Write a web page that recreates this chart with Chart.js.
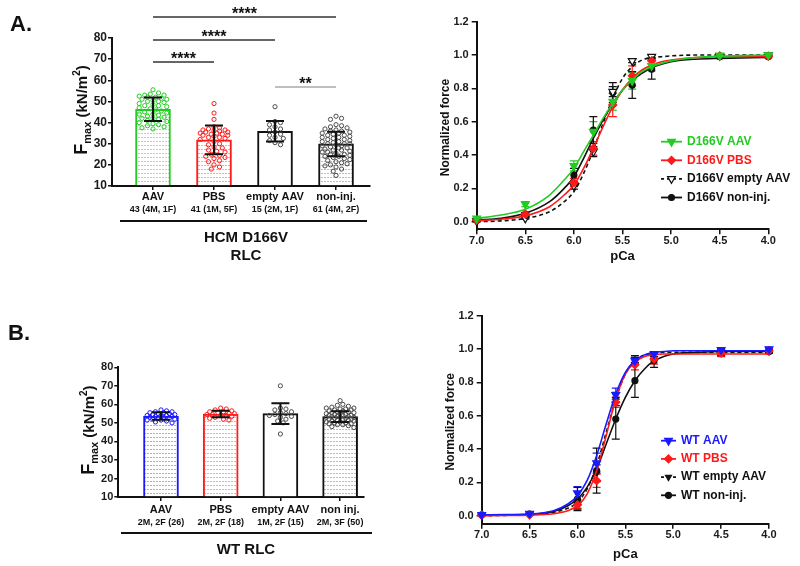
<!DOCTYPE html>
<html>
<head>
<meta charset="utf-8">
<title>Fmax and force-pCa, HCM D166V and WT RLC</title>
<script src="https://cdn.jsdelivr.net/npm/chart.js@4.4.1/dist/chart.umd.min.js"></script>
<style>
  html, body { margin: 0; padding: 0; background: #fff; }
  #page { position: relative; width: 800px; height: 566px; overflow: hidden; }
  canvas { position: absolute; }
</style>
</head>
<body>
<div id="page">
  <canvas id="fmaxA" width="400" height="280" style="left:0;top:0"></canvas>
  <canvas id="pcaA" width="400" height="280" style="left:400px;top:0"></canvas>
  <canvas id="fmaxB" width="400" height="286" style="left:0;top:280px"></canvas>
  <canvas id="pcaB" width="400" height="286" style="left:400px;top:280px"></canvas>
</div>
<script>
// ---------- Fmax bars, panel A (HCM D166V RLC) ----------
const groupsA = ['AAV', 'PBS', 'empty AAV', 'non-inj.'];
const countsA = ['43 (4M, 1F)', '41 (1M, 5F)', '15 (2M, 1F)', '61 (4M, 2F)'];
const meanA = [46.3, 31.8, 35.9, 29.9];
const sdA = [5.5, 6.8, 4.9, 5.8];
const aavA = [55.5, 54, 53.5, 53, 53, 52.5, 52, 52, 51.5, 51, 51, 50.5, 50, 50, 49.5, 49, 48.5, 48, 48, 47.5, 47, 46.5,
  46, 45.5, 45, 44.5, 44, 44, 43.5, 43, 42.5, 42, 42, 41.5, 41, 40.5, 40, 39.5, 39, 38.5, 38, 37.5, 37];
const pbsA = [49, 44.5, 41.5, 38, 37.5, 37, 36.5, 36.5, 36, 36, 35.5, 35.5, 35, 35, 34.5, 34.5, 34, 34, 33.5, 33, 33,
  32.5, 32, 31, 30, 29.5, 28.5, 28, 27, 26.5, 26, 25, 24.5, 24, 23.5, 23, 22, 21.5, 20, 19, 18];
const emptyA = [47.5, 40.5, 40, 39, 38, 37, 36.5, 35.5, 34.5, 34, 33, 32.5, 31.5, 30.5, 29.5];
const noninjA = [43, 42, 41.5, 39, 38.5, 38, 37.5, 37, 36.5, 36, 36, 35.5, 35, 35, 34.5, 34, 34, 33.5, 33, 33, 32.5, 32,
  32, 31.5, 31, 31, 30.5, 30, 30, 30, 29.5, 29, 29, 28.5, 28, 28, 27.5, 27, 27, 26.5, 26, 26, 25.5, 25, 25, 24.5, 24, 24,
  23.5, 23, 22.5, 22, 21.5, 21, 20.5, 20, 19.5, 19, 18, 17, 15];
// significance brackets: [group from, group to]
const sigPairsA = [[1, 2], [1, 3], [1, 4], [3, 4]];
const sigLabelsA = ['****', '****', '****', '**'];

// ---------- Fmax bars, panel B (WT RLC) ----------
const groupsB = ['AAV', 'PBS', 'empty AAV', 'non inj.'];
const countsB = ['2M, 2F (26)', '2M, 2F (18)', '1M, 2F (15)', '2M, 3F (50)'];
const meanB = [53.7, 54.8, 55.0, 53.4];
const sdB = [2.0, 1.8, 5.6, 2.9];
const aavB = [57, 56.5, 56, 56, 55.5, 55.5, 55, 55, 54.5, 54.5, 54, 54, 54, 53.5, 53.5, 53, 53, 52.5, 52.5, 52, 52, 51.5,
  51.5, 51, 50.5, 50];
const pbsB = [58, 57.5, 57, 56.5, 56, 56, 55.5, 55, 55, 54.5, 54.5, 54, 54, 53.5, 53, 52.5, 52, 51.5];
const emptyB = [70, 58, 57.5, 57, 56, 55.5, 55, 54.5, 54, 53.5, 53, 52, 51, 50, 44];
const noninjB = [62, 60, 59.5, 59, 58.5, 58, 58, 57.5, 57.5, 57, 57, 56.5, 56.5, 56, 56, 55.5, 55.5, 55, 55, 54.5, 54.5,
  54, 54, 54, 53.5, 53.5, 53.5, 53, 53, 53, 52.5, 52.5, 52, 52, 52, 51.5, 51.5, 51, 51, 50.5, 50.5, 50, 50, 49.5, 49.5,
  49, 49, 48.5, 48, 47.5];

// ---------- force-pCa ----------
const pCa = [7.0, 6.5, 6.0, 5.8, 5.6, 5.4, 5.2, 4.5, 4.0];
const fitPCa = [7.0, 6.75, 6.5, 6.25, 6.1, 6.0, 5.9, 5.8, 5.7, 5.6, 5.5, 5.4, 5.3, 5.2, 5.1, 5.0, 4.75, 4.5, 4.0];
const pCaTicks = [7.0, 6.5, 6.0, 5.5, 5.0, 4.5, 4.0];
const forceTicks = [0, 0.2, 0.4, 0.6, 0.8, 1.0, 1.2];

const d166vAAV = [0.02, 0.105, 0.335, 0.54, 0.72, 0.845, 0.935, 0.998, 1.0];
const d166vAAVerr = [0.005, 0.015, 0.03, 0.06, 0.05, 0.05, 0.03, 0.005, 0.004];
const d166vAAVfit = [0.02, 0.04, 0.075, 0.16, 0.25, 0.32, 0.42, 0.52, 0.62, 0.71, 0.79, 0.85, 0.9, 0.93, 0.95, 0.965, 0.985, 0.993, 1.0];
const d166vPBS = [0.01, 0.045, 0.235, 0.44, 0.70, 0.875, 0.965, 0.995, 0.993];
const d166vPBSerr = [0.004, 0.01, 0.025, 0.04, 0.07, 0.06, 0.02, 0.005, 0.005];
const d166vPBSfit = [0.005, 0.015, 0.035, 0.09, 0.16, 0.22, 0.32, 0.44, 0.57, 0.69, 0.79, 0.86, 0.91, 0.94, 0.96, 0.97, 0.985, 0.99, 0.99];
const d166vEmpty = [0.003, 0.02, 0.215, 0.42, 0.78, 0.965, 0.99, 0.995, 1.0];
const d166vEmptyErr = [0.002, 0.005, 0.02, 0.03, 0.03, 0.01, 0.01, 0.004, 0.003];
const d166vEmptyFit = [0.0, 0.005, 0.02, 0.06, 0.12, 0.18, 0.29, 0.43, 0.59, 0.74, 0.86, 0.93, 0.97, 0.985, 0.99, 0.995, 1.0, 1.0, 1.0];
const d166vNon = [0.01, 0.045, 0.28, 0.55, 0.775, 0.82, 0.915, 0.99, 0.99];
const d166vNonErr = [0.004, 0.01, 0.04, 0.08, 0.06, 0.08, 0.06, 0.01, 0.005];
const d166vNonFit = [0.01, 0.02, 0.05, 0.12, 0.2, 0.27, 0.38, 0.5, 0.61, 0.71, 0.79, 0.85, 0.89, 0.925, 0.945, 0.96, 0.975, 0.98, 0.985];

const wtAAV = [0.005, 0.012, 0.135, 0.315, 0.725, 0.93, 0.97, 0.995, 1.0];
const wtAAVerr = [0.003, 0.005, 0.04, 0.06, 0.04, 0.02, 0.015, 0.005, 0.005];
const wtAAVfit = [0.005, 0.007, 0.01, 0.03, 0.07, 0.12, 0.21, 0.36, 0.55, 0.73, 0.86, 0.93, 0.965, 0.98, 0.985, 0.99, 0.99, 0.99, 0.99];
const wtPBS = [0.003, 0.005, 0.065, 0.21, 0.68, 0.905, 0.94, 0.975, 0.99];
const wtPBSerr = [0.002, 0.003, 0.02, 0.04, 0.03, 0.03, 0.03, 0.02, 0.01];
const wtPBSfit = [0.0, 0.001, 0.003, 0.012, 0.03, 0.06, 0.13, 0.27, 0.48, 0.7, 0.85, 0.92, 0.955, 0.965, 0.97, 0.97, 0.97, 0.97, 0.97];
const wtEmpty = [0.002, 0.01, 0.06, 0.255, 0.70, 0.94, 0.97, 0.98, 0.985];
const wtEmptyErr = [0.002, 0.004, 0.02, 0.05, 0.04, 0.02, 0.015, 0.01, 0.01];
const wtEmptyFit = [0.0, 0.002, 0.005, 0.02, 0.045, 0.08, 0.16, 0.3, 0.5, 0.7, 0.85, 0.93, 0.965, 0.975, 0.98, 0.98, 0.98, 0.98, 0.98];
const wtNon = [0.005, 0.01, 0.1, 0.27, 0.58, 0.81, 0.93, 0.98, 0.985];
const wtNonErr = [0.003, 0.004, 0.07, 0.135, 0.12, 0.1, 0.04, 0.02, 0.01];
const wtNonFit = [0.003, 0.005, 0.008, 0.025, 0.06, 0.1, 0.17, 0.28, 0.43, 0.58, 0.71, 0.81, 0.88, 0.93, 0.955, 0.97, 0.98, 0.985, 0.985];

// ---------- styling ----------
const FONT = "'Liberation Sans', Arial, sans-serif";
const GREEN = '#22cc22', RED = '#ff1a1a', BLUE = '#1a1aff', BLACK = '#111111', DOTGREY = '#4a4a4a';

Chart.defaults.font.family = FONT;
Chart.defaults.font.weight = 'bold';
Chart.defaults.color = '#1a1a1a';
Chart.defaults.animation = false;
Chart.defaults.plugins.legend.display = false;
Chart.defaults.plugins.tooltip.enabled = false;

function dotPattern(ctx, color) {
  const tile = document.createElement('canvas');
  tile.width = 3; tile.height = 4;
  const g = tile.getContext('2d');
  g.fillStyle = '#ffffff';
  g.fillRect(0, 0, 3, 4);
  g.fillStyle = color;
  g.fillRect(0, 1, 2, 1);
  return ctx.createPattern(tile, 'repeat');
}

// spread points sideways so they do not sit on top of each other (beeswarm)
function swarm(vals, center, pxX, pxY, dia, halfWidth) {
  const placed = [];
  return vals.slice().sort((a, b) => b - a).map(v => {
    const py = v * pxY;
    let best = 0, bestGap = -1;
    for (let k = 0; ; k++) {
      const off = (k % 2 ? 1 : -1) * Math.ceil(k / 2) * dia * 0.6;
      if (Math.abs(off) > halfWidth) break;
      let gap = Infinity;
      placed.forEach(p => { gap = Math.min(gap, Math.hypot(p.x - off, p.y - py)); });
      if (gap >= dia) { best = off; break; }
      if (gap > bestGap) { bestGap = gap; best = off; }
    }
    placed.push({ x: best, y: py });
    return { x: center + best / pxX, y: v };
  });
}

function text(ctx, str, x, y, font, color, align) {
  ctx.font = font;
  ctx.fillStyle = color || BLACK;
  ctx.textAlign = align || 'center';
  ctx.textBaseline = 'middle';
  ctx.fillText(str, x, y);
}

// "Fmax (kN/m2)" rotated, with sub- and superscript
function fmaxTitle(ctx, cx, cy) {
  const parts = [
    ['F', 'bold 18px ' + FONT, 0],
    ['max', 'bold 11px ' + FONT, 4],
    [' (kN/m', 'bold 15px ' + FONT, 0],
    ['2', 'bold 10px ' + FONT, -7],
    [')', 'bold 15px ' + FONT, 0]
  ];
  let total = 0;
  parts.forEach(p => { ctx.font = p[1]; total += ctx.measureText(p[0]).width; });
  ctx.save();
  ctx.translate(cx, cy);
  ctx.rotate(-Math.PI / 2);
  ctx.fillStyle = BLACK;
  ctx.textAlign = 'left';
  ctx.textBaseline = 'alphabetic';
  let x = -total / 2;
  parts.forEach(p => {
    ctx.font = p[1];
    ctx.fillText(p[0], x, 6 + p[2]);
    x += ctx.measureText(p[0]).width;
  });
  ctx.restore();
}

function fmaxPanel(id, p) {
  const canvas = document.getElementById(id);
  const ctx = canvas.getContext('2d');
  const datasets = p.dots.map((vals, i) => ({
    type: 'scatter',
    data: swarm(vals, i + 1, p.pxX, p.pxY, 4.6, 15),
    pointStyle: 'circle',
    pointRadius: 2.1,
    pointBorderWidth: 1,
    pointBorderColor: p.dotColors[i],
    pointBackgroundColor: 'rgba(255,255,255,0)',
    clip: false,
    order: 1
  }));
  datasets.push({
    type: 'bar',
    data: p.means.map((m, i) => ({ x: i + 1, y: m })),
    base: 10,
    barThickness: 35,
    borderWidth: 2,
    borderSkipped: 'start',
    borderColor: p.colors,
    backgroundColor: p.fills.map(f => f ? dotPattern(ctx, f) : '#ffffff'),
    order: 5
  });

  const decor = {
    id: 'fmaxDecor',
    afterDatasetsDraw(chart) {
      const c = chart.ctx, xs = chart.scales.x, ys = chart.scales.y;
      c.save();
      c.strokeStyle = BLACK;
      c.lineWidth = 2;
      p.means.forEach((m, i) => {
        const x = xs.getPixelForValue(i + 1);
        const yt = ys.getPixelForValue(m + p.sds[i]);
        const yb = ys.getPixelForValue(m - p.sds[i]);
        c.beginPath();
        c.moveTo(x, yt); c.lineTo(x, yb);
        c.moveTo(x - 9, yt); c.lineTo(x + 9, yt);
        c.moveTo(x - 9, yb); c.lineTo(x + 9, yb);
        c.stroke();
      });
      c.restore();
    },
    afterDraw(chart) {
      const c = chart.ctx, xs = chart.scales.x;
      c.save();
      p.groups.forEach((g, i) => {
        const x = xs.getPixelForValue(i + 1);
        text(c, g, x, p.nameY, 'bold 11px ' + FONT);
        text(c, p.counts[i], x, p.nameY + 13, 'bold 9px ' + FONT);
      });
      c.strokeStyle = BLACK;
      c.lineWidth = 2;
      c.beginPath();
      c.moveTo(p.groupLine[0], p.groupLine[2]);
      c.lineTo(p.groupLine[1], p.groupLine[2]);
      c.stroke();
      p.groupTitle.forEach((t, k) => text(c, t, p.groupTitleX, p.groupLine[2] + 17 + k * 18, 'bold 15px ' + FONT));
      (p.sigPairs || []).forEach((pair, k) => {
        const x1 = xs.getPixelForValue(pair[0]), x2 = xs.getPixelForValue(pair[1]);
        const y = p.sigY[k];
        c.strokeStyle = p.sigColors[k];
        c.lineWidth = 1.5;
        c.beginPath();
        c.moveTo(x1, y); c.lineTo(x2, y);
        c.stroke();
        c.font = 'bold 16px ' + FONT;
        c.fillStyle = BLACK;
        c.textAlign = 'center';
        c.textBaseline = 'alphabetic';
        c.fillText(p.sigLabels[k], (x1 + x2) / 2, y + 2);
      });
      fmaxTitle(c, p.titleX, (chart.chartArea.top + chart.chartArea.bottom) / 2 - 2);
      text(c, p.letter, p.letterX, p.letterY, 'bold 22px ' + FONT, BLACK, 'left');
      c.restore();
    }
  };

  return new Chart(canvas, {
    type: 'bar',
    data: { datasets },
    plugins: [decor],
    options: {
      responsive: false,
      layout: { padding: { left: 0, top: p.top, right: p.right, bottom: 0 } },
      scales: {
        x: {
          type: 'linear', min: p.xMin, max: p.xMax, bounds: 'data', offset: false,
          grid: { offset: false, drawOnChartArea: false, drawTicks: true, tickLength: 4, color: BLACK, lineWidth: 1.5 },
          border: { color: BLACK, width: 2 },
          ticks: { display: false },
          afterBuildTicks: s => { s.ticks = p.groups.map((g, i) => ({ value: i + 1 })); },
          afterFit: s => { s.height = p.xH; }
        },
        y: {
          min: 10, max: 80,
          ticks: { stepSize: 10, padding: 1, color: '#1a1a1a', font: { size: p.tickSize, weight: 'bold' } },
          grid: { drawOnChartArea: false, tickLength: 4, color: BLACK, lineWidth: 1.5 },
          border: { color: BLACK, width: 2 },
          afterFit: s => { s.width = p.yW; }
        }
      }
    }
  });
}

function pcaPanel(id, p) {
  const datasets = [];
  p.series.forEach(s => {
    datasets.push({
      type: 'line',
      data: fitPCa.map((x, i) => ({ x, y: s.fit[i] })),
      borderColor: s.color, borderWidth: 1.6, borderDash: s.dash || [],
      pointRadius: 0, cubicInterpolationMode: 'monotone', fill: false, order: s.order
    });
    datasets.push({
      type: 'scatter',
      data: pCa.map((x, i) => ({ x, y: s.mean[i] })),
      pointStyle: s.marker, pointRotation: s.rot, pointRadius: s.r,
      pointBackgroundColor: s.fill, pointBorderColor: s.color, pointBorderWidth: 1.2,
      clip: false, order: s.order
    });
  });

  const decor = {
    id: 'pcaDecor',
    beforeDatasetsDraw(chart) {
      const c = chart.ctx, xs = chart.scales.x, ys = chart.scales.y;
      c.save();
      c.lineWidth = 1.2;
      p.series.forEach(s => {
        c.strokeStyle = s.color;
        pCa.forEach((x, i) => {
          const px = xs.getPixelForValue(x);
          const yt = ys.getPixelForValue(s.mean[i] + s.err[i]);
          const yb = ys.getPixelForValue(s.mean[i] - s.err[i]);
          c.beginPath();
          c.moveTo(px, yt); c.lineTo(px, yb);
          c.moveTo(px - 4, yt); c.lineTo(px + 4, yt);
          c.moveTo(px - 4, yb); c.lineTo(px + 4, yb);
          c.stroke();
        });
      });
      c.restore();
    },
    afterDraw(chart) {
      const c = chart.ctx, a = chart.chartArea;
      c.save();
      c.translate(p.yTitleX, (a.top + a.bottom) / 2 + 2);
      c.rotate(-Math.PI / 2);
      text(c, 'Normalized force', 0, 0, 'bold 12px ' + FONT);
      c.restore();
      c.save();
      text(c, 'pCa', (a.left + a.right) / 2, p.xTitleY, 'bold 13px ' + FONT);
      p.series.forEach((s, k) => {
        const y = p.legendY + k * p.legendGap;
        c.strokeStyle = s.color;
        c.lineWidth = 1.8;
        c.setLineDash(s.dash ? [3, 3] : []);
        c.beginPath();
        c.moveTo(p.legendX, y); c.lineTo(p.legendX + p.legendLen, y);
        c.stroke();
        c.setLineDash([]);
        c.fillStyle = s.fill;
        c.lineWidth = 1.2;
        Chart.helpers.drawPoint(c, { pointStyle: s.marker, rotation: s.rot, radius: s.r, borderWidth: 1.2 },
          p.legendX + p.legendLen / 2, y);
        text(c, s.label, p.legendX + p.legendLen + 5, y, 'bold 12px ' + FONT, s.textColor, 'left');
      });
      c.restore();
    }
  };

  return new Chart(document.getElementById(id), {
    type: 'scatter',
    data: { datasets },
    plugins: [decor],
    options: {
      responsive: false,
      layout: { padding: { left: 0, top: p.top, right: p.right, bottom: 0 } },
      scales: {
        x: {
          type: 'linear', min: 4, max: 7, reverse: true, bounds: 'data',
          grid: { drawOnChartArea: false, tickLength: 5, color: BLACK, lineWidth: 1.5 },
          border: { color: BLACK, width: 2 },
          ticks: { padding: 0, color: '#1a1a1a', font: { size: 11, weight: 'bold' }, callback: v => v.toFixed(1) },
          afterBuildTicks: s => { s.ticks = pCaTicks.map(v => ({ value: v })); },
          afterFit: s => { s.height = p.xH; }
        },
        y: {
          type: 'linear', min: p.yMin, max: 1.2, bounds: 'data',
          grid: { drawOnChartArea: false, tickLength: 5, color: BLACK, lineWidth: 1.5 },
          border: { color: BLACK, width: 2 },
          ticks: { padding: 3, color: '#1a1a1a', font: { size: 11, weight: 'bold' }, callback: v => v.toFixed(1) },
          afterBuildTicks: s => { s.ticks = forceTicks.map(v => ({ value: v })); },
          afterFit: s => { s.width = p.yW; }
        }
      }
    }
  });
}

fmaxPanel('fmaxA', {
  groups: groupsA, counts: countsA, means: meanA, sds: sdA,
  dots: [aavA, pbsA, emptyA, noninjA],
  colors: [GREEN, RED, BLACK, BLACK], dotColors: [GREEN, RED, DOTGREY, DOTGREY],
  fills: ['#a8e0a8', '#f7a8a8', null, '#bdbdbd'],
  xMin: 0.328, xMax: 4.557, pxX: 61, pxY: 2.114,
  top: 38, right: 30, yW: 112, xH: 94, tickSize: 12,
  nameY: 197, groupLine: [120, 367, 221], groupTitle: ['HCM D166V', 'RLC'], groupTitleX: 246,
  sigPairs: sigPairsA, sigLabels: sigLabelsA, sigY: [62, 40, 17, 87], sigColors: ['#333', '#333', '#333', '#aaa'],
  titleX: 81, letter: 'A.', letterX: 10, letterY: 25
});

fmaxPanel('fmaxB', {
  groups: groupsB, counts: countsB, means: meanB, sds: sdB,
  dots: [aavB, pbsB, emptyB, noninjB],
  colors: [BLUE, RED, BLACK, BLACK], dotColors: [BLUE, RED, DOTGREY, DOTGREY],
  fills: ['#a8a8f5', '#f7a8a8', null, '#bdbdbd'],
  xMin: 0.285, xMax: 4.40, pxX: 59.7, pxY: 1.853,
  top: 87.3, right: 36, yW: 118.3, xH: 69, tickSize: 11,
  nameY: 230, groupLine: [121, 372, 253], groupTitle: ['WT RLC'], groupTitleX: 246,
  titleX: 88, letter: 'B.', letterX: 8, letterY: 54
});

pcaPanel('pcaA', {
  top: 21.7, right: 31.7, yW: 76.7, xH: 50.7, yMin: -0.0456,
  yTitleX: 45.7, xTitleY: 256.7,
  legendX: 261, legendLen: 21, legendY: 141.7, legendGap: 18.6,
  series: [
    { label: 'D166V AAV', mean: d166vAAV, err: d166vAAVerr, fit: d166vAAVfit, color: GREEN, textColor: GREEN,
      fill: GREEN, marker: 'triangle', rot: 180, r: 4.5, order: 1 },
    { label: 'D166V PBS', mean: d166vPBS, err: d166vPBSerr, fit: d166vPBSfit, color: RED, textColor: RED,
      fill: RED, marker: 'rectRot', rot: 0, r: 4, order: 2 },
    { label: 'D166V empty AAV', mean: d166vEmpty, err: d166vEmptyErr, fit: d166vEmptyFit, color: BLACK, textColor: BLACK,
      fill: '#ffffff', marker: 'triangle', rot: 180, r: 4.5, dash: [4, 3], order: 3 },
    { label: 'D166V non-inj.', mean: d166vNon, err: d166vNonErr, fit: d166vNonFit, color: BLACK, textColor: BLACK,
      fill: BLACK, marker: 'circle', rot: 0, r: 3, order: 4 }
  ]
});

pcaPanel('pcaB', {
  top: 35.7, right: 31, yW: 81.7, xH: 42.3, yMin: -0.048,
  yTitleX: 51, xTitleY: 274.3,
  legendX: 261, legendLen: 15, legendY: 160.7, legendGap: 18.2,
  series: [
    { label: 'WT AAV', mean: wtAAV, err: wtAAVerr, fit: wtAAVfit, color: BLUE, textColor: BLUE,
      fill: BLUE, marker: 'triangle', rot: 180, r: 4.5, order: 1 },
    { label: 'WT PBS', mean: wtPBS, err: wtPBSerr, fit: wtPBSfit, color: RED, textColor: RED,
      fill: RED, marker: 'rectRot', rot: 0, r: 4, order: 2 },
    { label: 'WT empty AAV', mean: wtEmpty, err: wtEmptyErr, fit: wtEmptyFit, color: BLACK, textColor: BLACK,
      fill: BLACK, marker: 'triangle', rot: 180, r: 3.5, dash: [4, 3], order: 3 },
    { label: 'WT non-inj.', mean: wtNon, err: wtNonErr, fit: wtNonFit, color: BLACK, textColor: BLACK,
      fill: BLACK, marker: 'circle', rot: 0, r: 3, order: 4 }
  ]
});
</script>
</body>
</html>
